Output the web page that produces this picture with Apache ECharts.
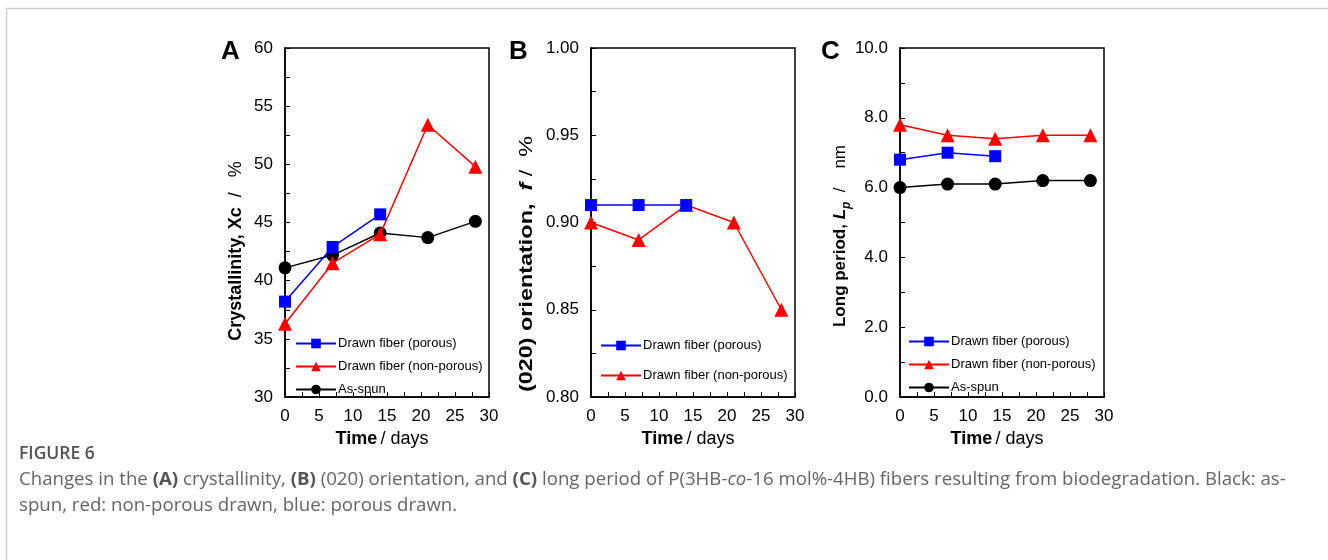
<!DOCTYPE html>
<html><head><meta charset="utf-8">
<script src="https://cdn.jsdelivr.net/npm/echarts@6/dist/echarts.min.js"></script>
<style>html,body{margin:0;padding:0;background:#fff;}#c{width:1328px;height:560px;}</style>
</head><body><div id="c"></div>
<script>
const days = [0, 7, 14, 21, 28];
const seriesNames = ['Drawn fiber (porous)', 'Drawn fiber (non-porous)', 'As-spun'];
// Panel A: crystallinity (%)
const aPorous = [38.2, 42.9, 45.7];
const aNonPorous = [36.3, 41.5, 44.0, 53.4, 49.8];
const aAsSpun = [41.1, 42.2, 44.1, 43.7, 45.1];
// Panel B: (020) orientation
const bPorous = [0.91, 0.91, 0.91];
const bNonPorous = [0.90, 0.89, 0.91, 0.90, 0.85];
// Panel C: long period (nm)
const cPorous = [6.8, 7.0, 6.9];
const cNonPorous = [7.8, 7.5, 7.4, 7.5, 7.5];
const cAsSpun = [6.0, 6.1, 6.1, 6.2, 6.2];

const FONT = '"Liberation Sans", Arial, sans-serif';
const zip = vals => vals.map((v, i) => [days[i], v]);
const styles = [
  {color: '#0000ff', symbol: 'rect', symbolSize: 12},
  {color: '#ff0000', symbol: 'triangle', symbolSize: 14},
  {color: '#000000', symbol: 'circle', symbolSize: 13}
];
function mkSeries(idx, vals, gi) {
  const s = styles[idx];
  return {
    type: 'line', name: seriesNames[idx], xAxisIndex: gi, yAxisIndex: gi,
    data: zip(vals), symbol: s.symbol, symbolSize: s.symbolSize,
    lineStyle: {color: s.color, width: 1.5}, itemStyle: {color: s.color},
    showSymbol: true, animation: false, z: 3 - idx
  };
}
const lefts = [285, 591, 900];
const grids = lefts.map(l => ({left: l, top: 48, width: 204, height: 349, show: true, borderColor: '#000', borderWidth: 1.5}));
const xAxes = lefts.map((l, i) => ({
  type: 'value', gridIndex: i, min: 0, max: 30, interval: 5,
  axisLine: {lineStyle: {color: '#000', width: 1.5}},
  axisTick: {inside: true, length: 5, lineStyle: {color: '#000'}},
  minorTick: {show: true, splitNumber: 2, length: 5, lineStyle: {color: '#000'}},
  splitLine: {show: false},
  axisLabel: {color: '#000', fontSize: 17, fontFamily: FONT, margin: 11},
  name: '{b|Time} {n|/ days}', nameLocation: 'middle', nameGap: 27,
  nameTextStyle: {padding: [0, 10, 0, 0], rich: {b: {fontWeight: 'bold', fontSize: 18, fontFamily: FONT, color: '#000'}, n: {fontSize: 18, fontFamily: FONT, color: '#000'}}}
}));
function yAxis(i, min, max, interval, fmt) {
  return {
    type: 'value', gridIndex: i, min: min, max: max, interval: interval,
    axisLine: {lineStyle: {color: '#000', width: 1.5}},
    axisTick: {inside: true, length: 5, lineStyle: {color: '#000'}},
    minorTick: {show: true, splitNumber: 2, length: 5, lineStyle: {color: '#000'}},
    splitLine: {show: false},
    axisLabel: {color: '#000', fontSize: 17, fontFamily: FONT, margin: 12, formatter: fmt}
  };
}
const yAxes = [
  yAxis(0, 30, 60, 5, v => String(v)),
  yAxis(1, 0.80, 1.00, 0.05, v => v.toFixed(2)),
  yAxis(2, 0, 10, 2, v => v.toFixed(1))
];
const series = [
  mkSeries(0, aPorous, 0), mkSeries(1, aNonPorous, 0), mkSeries(2, aAsSpun, 0),
  mkSeries(0, bPorous, 1), mkSeries(1, bNonPorous, 1),
  mkSeries(0, cPorous, 2), mkSeries(1, cNonPorous, 2), mkSeries(2, cAsSpun, 2)
];
function legend(left, top, names, gap) {
  return {
    left: left, top: top, orient: 'vertical', itemWidth: 40, itemHeight: 12, itemGap: gap,
    data: names, selectedMode: false,
    textStyle: {fontSize: 13, fontFamily: FONT, color: '#000', padding: [0, 0, 0, -3]}
  };
}
const legends = [
  legend(290, 332, seriesNames, 10),
  legend(595, 334, seriesNames.slice(0, 2), 17),
  legend(903, 330, seriesNames, 10)
];
const letters = [['A', 221], ['B', 509], ['C', 821]].map(([t, x]) => ({
  type: 'text', left: x, top: 39, style: {text: t, font: 'bold 26px ' + FONT, fill: '#000'}
}));
function yName(x, y, text, size, sx) {
  return {
    type: 'text', x: x, y: y, rotation: Math.PI / 2, scaleX: sx,
    style: {
      text: text, align: 'center', verticalAlign: 'middle',
      rich: {
        b: {font: 'bold ' + size + 'px ' + FONT, fill: '#000'},
        bi: {font: 'italic bold ' + size + 'px ' + FONT, fill: '#000'},
        sub: {font: 'italic bold ' + Math.round(size * 0.7) + 'px ' + FONT, fill: '#000', verticalAlign: 'bottom', lineHeight: size + 8},
        n: {font: size + 'px ' + FONT, fill: '#000'}
      }
    }
  };
}
const CF = '"Open Sans", Lato, sans-serif';
const graphics = [
  {type: 'line', shape: {x1: 6, y1: 8.5, x2: 1328, y2: 8.5}, style: {stroke: '#d0d0d0', lineWidth: 1.5}},
  {type: 'line', shape: {x1: 6.5, y1: 8, x2: 6.5, y2: 560}, style: {stroke: '#d0d0d0', lineWidth: 1.5}},
  ...letters,
  yName(236, 251, '{b|Crystallinity, Xc}{n|  /   %}', 18, 1),
  yName(527, 264, '{b|(020) orientation,  }{bi|f}{n| /  %}', 18, 1.3),
  yName(840, 236, '{b|Long period, }{bi|L}{sub|p}{n|  /    nm}', 17, 1),
  {type: 'text', left: 19, top: 445, style: {text: 'FIGURE 6', font: '600 17.5px ' + CF, fill: '#555'}},
  {type: 'text', left: 19, top: 470, style: {
    text: '{n|Changes in the }{b|(A)}{n| crystallinity, }{b|(B)}{n| (020) orientation, and }{b|(C)}{n| long period of P(3HB-}{i|co}{n|-16 mol%-4HB) fibers resulting from biodegradation. Black: as-}\n{n|spun, red: non-porous drawn, blue: porous drawn.}',
    rich: {
      n: {font: '18.65px ' + CF, fill: '#666', lineHeight: 26},
      b: {font: 'bold 18.65px ' + CF, fill: '#555', lineHeight: 26},
      i: {font: 'italic 18.65px ' + CF, fill: '#666', lineHeight: 26}
    }
  }}
];
const chart = echarts.init(document.getElementById('c'), null, {renderer: 'canvas'});
chart.setOption({
  animation: false, backgroundColor: '#fff',
  grid: grids, xAxis: xAxes, yAxis: yAxes, series: series, legend: legends, graphic: graphics
});
</script></body></html>
